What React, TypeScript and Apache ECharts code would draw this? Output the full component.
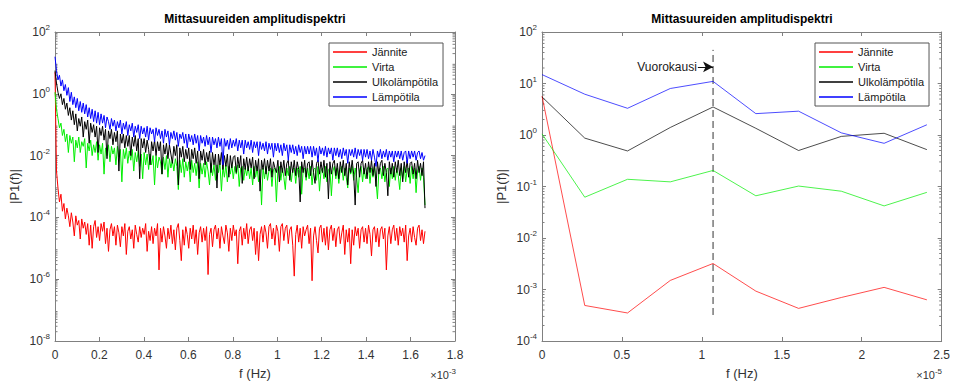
import { useEffect, useRef } from 'react';
import * as echarts from 'echarts';

const FONT = '"Liberation Sans", Arial, Helvetica, sans-serif';
const TITLE = 'Mittasuureiden amplitudispektri';
const X_NAME = 'f (Hz)';
const Y_NAME = '|P1(f)|';

const seriesNames = ['Jännite', 'Virta', 'Ulkolämpötila', 'Lämpötila'];
const seriesColors = ['#ff0000', '#00ee00', '#000000', '#0000ff'];

// ---------- Left panel: full amplitude spectrum (values as log10 |P1(f)|) ----------
const leftFreqStepHz = 6.6867e-6; // spectrum bin spacing
const janniteLog10 = [
  0.7, -2.5, -3.05, -3.5, -3.25, -3.8, -3.55, -4.05, -3.7, -3.95,
  -4.3, -3.85, -4.15, -4.6, -3.95, -4.25, -4.1, -4.7, -4.05, -4.35,
  -4.15, -4.55, -4.2, -4.9, -4.25, -5.0, -4.3, -4.1, -4.65, -4.3,
  -4.75, -4.2, -4.45, -4.15, -4.85, -4.35, -5.1, -4.4, -4.2, -4.6,
  -4.3, -4.9, -4.25, -4.5, -4.95, -4.3, -4.6, -4.2, -5.2, -4.45,
  -4.3, -4.7, -4.4, -5.0, -4.25, -4.55, -4.8, -4.3, -4.65, -4.35,
  -4.55, -4.2, -5.1, -4.45, -4.75, -4.3, -4.85, -4.35, -4.6, -4.2,
  -5.7, -4.35, -4.8, -4.3, -4.6, -5.0, -4.35, -4.7, -4.25, -4.85,
  -4.4, -5.05, -4.35, -4.2, -4.75, -5.4, -4.4, -4.9, -4.3, -4.55,
  -5.0, -4.35, -4.7, -4.25, -4.85, -4.4, -5.2, -4.5, -4.3, -4.8,
  -4.35, -4.75, -4.3, -5.85, -4.55, -4.35, -4.95, -4.4, -4.25, -4.7,
  -4.35, -5.0, -4.3, -4.6, -4.85, -4.25, -4.5, -5.1, -4.35, -4.75,
  -4.25, -4.6, -4.4, -5.5, -4.45, -4.3, -4.9, -4.35, -4.7, -4.2,
  -4.85, -4.4, -4.3, -4.75, -4.35, -5.2, -4.45, -5.4, -4.55, -4.3,
  -4.8, -4.25, -4.5, -5.0, -4.3, -4.2, -4.7, -4.35, -4.9, -4.25,
  -4.45, -5.1, -4.3, -4.2, -4.75, -4.35, -4.25, -4.85, -4.4, -4.3,
  -4.9, -5.9, -4.55, -4.25, -4.8, -4.35, -5.0, -4.3, -4.6, -4.4,
  -4.25, -4.85, -4.35, -6.05, -4.6, -4.3, -4.75, -5.15, -4.35, -4.25,
  -4.8, -4.35, -4.9, -4.3, -5.05, -4.4, -4.25, -4.75, -4.35, -4.95,
  -4.4, -4.3, -4.85, -4.5, -4.25, -5.2, -4.4, -4.8, -4.35, -5.5,
  -4.4, -4.9, -4.3, -4.6, -4.35, -5.0, -4.4, -4.3, -4.8, -4.35,
  -4.85, -4.25, -4.55, -5.25, -4.4, -4.3, -4.8, -4.35, -4.95, -4.4,
  -4.3, -4.7, -4.35, -5.7, -4.6, -4.3, -4.85, -4.4, -4.25, -4.75,
  -4.35, -4.9, -4.3, -4.6, -4.35, -4.8, -4.25, -5.4, -4.6, -4.35,
  -4.8, -4.3, -4.65, -4.9, -4.35, -4.25, -4.75, -4.4, -4.85, -4.45,
];
const virtaLog10 = [
  0.05, -0.5, -0.8, -1.1, -0.95, -1.35, -1.15, -1.55, -1.3, -1.9,
  -1.35, -1.6, -1.4, -2.2, -1.5, -1.75, -1.4, -1.9, -1.55, -1.7,
  -1.45, -2.4, -1.6, -1.85, -1.5, -2.0, -1.65, -1.9, -1.55, -2.15,
  -1.65, -1.95, -1.6, -2.6, -1.75, -2.0, -1.65, -2.2, -1.7, -1.95,
  -1.75, -2.3, -1.7, -2.05, -1.8, -2.85, -1.8, -2.1, -1.75, -2.25,
  -1.85, -2.15, -1.8, -2.5, -1.9, -2.2, -1.85, -2.35, -1.95, -2.75,
  -1.9, -2.3, -1.95, -2.45, -1.95, -2.3, -2.0, -2.95, -2.0, -2.4,
  -2.05, -2.2, -2.6, -2.05, -2.45, -2.0, -2.7, -2.1, -2.4, -2.15,
  -2.5, -2.1, -2.35, -3.1, -2.15, -2.55, -2.1, -2.7, -2.2, -2.5,
  -2.2, -2.85, -2.15, -2.55, -2.25, -2.65, -2.2, -3.05, -2.25, -2.6,
  -2.25, -2.7, -2.2, -2.5, -2.95, -2.25, -2.65, -2.3, -2.8, -2.3,
  -2.55, -2.25, -3.15, -2.35, -2.7, -2.3, -2.85, -2.35, -2.6, -2.3,
  -2.75, -2.35, -2.6, -2.3, -3.0, -2.4, -2.35, -2.8, -2.4, -2.65,
  -2.35, -2.75, -2.4, -2.95, -2.35, -2.7, -2.4, -2.85, -2.45, -3.6,
  -2.4, -2.75, -2.35, -2.8, -2.5, -2.4, -3.0, -2.45, -2.4, -3.5,
  -2.45, -2.35, -2.8, -2.4, -2.7, -3.1, -2.4, -2.65, -2.35, -2.85,
  -2.45, -2.4, -2.9, -2.4, -2.7, -2.35, -3.25, -2.45, -2.4, -2.8,
  -2.4, -2.75, -2.35, -2.95, -2.45, -2.4, -2.8, -2.35, -3.15, -2.5,
  -2.4, -2.75, -2.35, -2.85, -2.45, -2.4, -3.3, -2.5, -2.35, -2.75,
  -2.4, -2.9, -2.45, -2.35, -2.8, -2.4, -2.7, -3.05, -2.4, -2.6,
  -2.35, -2.8, -2.4, -2.7, -3.2, -2.45, -2.35, -2.85, -2.4, -2.75,
  -2.45, -2.35, -2.9, -2.4, -2.7, -2.35, -2.8, -3.4, -2.45, -2.4,
  -2.75, -2.35, -2.85, -2.45, -2.4, -3.0, -2.4, -2.75, -2.35, -2.8,
  -2.4, -2.65, -3.1, -2.4, -2.75, -2.35, -2.85, -2.45, -2.4, -2.9,
  -2.35, -2.75, -2.4, -3.2, -2.5, -2.35, -2.8, -2.4, -2.7, -3.6,
];
const ulkolampotilaLog10 = [
  0.75, 0.35, 0.05, -0.15, 0.0, -0.35, -0.15, -0.5, -0.3, -0.7,
  -0.45, -0.85, -0.55, -1.0, -0.65, -1.2, -0.8, -1.05, -0.75, -1.4,
  -0.9, -1.15, -0.85, -1.6, -0.95, -1.25, -1.0, -1.4, -1.05, -1.9,
  -1.1, -1.35, -1.05, -1.5, -1.15, -2.1, -1.2, -1.45, -1.15, -1.65,
  -1.25, -1.55, -1.2, -2.5, -1.3, -1.6, -1.3, -1.75, -1.35, -1.7,
  -1.35, -2.0, -1.4, -1.7, -1.35, -1.85, -1.45, -2.75, -1.45, -1.75,
  -1.45, -1.9, -1.5, -1.8, -2.3, -1.55, -1.85, -1.5, -2.0, -1.55,
  -1.85, -1.55, -2.6, -1.65, -1.95, -1.6, -2.1, -1.65, -1.95, -2.25,
  -1.7, -2.0, -1.65, -2.95, -1.75, -2.05, -1.7, -2.2, -1.8, -2.1,
  -1.75, -2.45, -1.8, -2.1, -1.75, -2.25, -1.85, -2.75, -1.85, -2.15,
  -1.8, -2.3, -1.9, -2.2, -1.85, -2.55, -1.9, -2.3, -1.95, -3.05,
  -1.95, -2.3, -1.9, -2.45, -2.0, -2.35, -1.95, -2.7, -2.0, -2.4,
  -2.05, -2.0, -2.55, -2.05, -2.4, -2.0, -2.9, -2.1, -2.45, -2.05,
  -2.5, -2.1, -2.4, -2.05, -2.75, -2.15, -2.5, -2.1, -3.15, -2.15,
  -2.45, -2.1, -2.6, -2.15, -2.5, -2.1, -2.7, -2.2, -2.4, -2.55,
  -2.15, -2.85, -2.2, -2.55, -2.15, -2.65, -2.25, -2.15, -2.8, -2.2,
  -2.55, -2.15, -2.65, -2.2, -2.45, -3.5, -2.2, -2.55, -2.15, -2.7,
  -2.25, -2.2, -2.65, -2.15, -2.55, -2.9, -2.25, -2.15, -2.6, -2.2,
  -2.55, -2.15, -2.7, -2.25, -3.4, -2.2, -2.6, -2.25, -2.15, -2.65,
  -2.25, -2.75, -2.2, -2.55, -2.15, -2.65, -2.25, -2.95, -2.2, -2.55,
  -2.15, -2.6, -3.6, -2.25, -2.2, -2.7, -2.25, -2.15, -2.6, -2.25,
  -2.75, -2.2, -2.55, -2.15, -2.65, -2.25, -3.0, -2.2, -2.6, -2.25,
  -2.15, -2.65, -2.25, -2.55, -3.3, -2.2, -2.6, -2.25, -2.7, -2.2,
  -2.55, -2.15, -2.65, -2.25, -2.85, -2.2, -2.55, -2.15, -2.7, -2.25,
  -2.2, -2.6, -2.25, -2.75, -2.15, -2.55, -2.25, -2.65, -2.2, -3.7,
];
const lampotilaLog10 = [
  1.2, 0.75, 0.45, 0.6, 0.25, 0.45, 0.1, 0.3, -0.05, 0.2,
  -0.25, 0.05, -0.35, -0.1, -0.45, -0.15, -0.55, -0.25, -0.6, -0.3,
  -0.65, -0.35, -0.75, -0.45, -0.8, -0.5, -0.9, -0.55, -0.95, -0.6,
  -1.0, -0.65, -0.95, -0.7, -1.1, -0.75, -0.9, -1.15, -0.8, -1.05,
  -0.85, -1.2, -0.9, -1.1, -0.85, -1.3, -0.95, -1.15, -0.9, -1.35,
  -1.0, -1.2, -0.95, -1.4, -1.05, -1.25, -1.0, -1.45, -1.05, -1.3,
  -1.1, -1.4, -1.05, -1.5, -1.1, -1.3, -1.15, -1.55, -1.1, -1.35,
  -1.15, -1.45, -1.2, -1.6, -1.15, -1.4, -1.2, -1.65, -1.25, -1.45,
  -1.2, -1.5, -1.25, -1.7, -1.3, -1.45, -1.25, -1.6, -1.3, -1.75,
  -1.3, -1.55, -1.35, -1.65, -1.3, -1.6, -1.35, -1.85, -1.35, -1.6,
  -1.4, -1.7, -1.35, -1.65, -1.4, -1.9, -1.4, -1.65, -1.45, -1.75,
  -1.4, -1.7, -1.45, -2.3, -1.45, -1.7, -1.5, -1.8, -1.45, -1.75,
  -1.5, -1.7, -1.45, -1.85, -1.5, -1.75, -1.5, -1.95, -1.5, -1.75,
  -1.55, -1.8, -1.5, -1.9, -1.55, -1.75, -1.55, -2.0, -1.55, -1.8,
  -1.6, -1.85, -1.55, -1.95, -1.6, -1.8, -1.6, -2.05, -1.6, -1.85,
  -1.6, -1.9, -1.65, -2.0, -1.6, -1.85, -1.65, -2.15, -1.65, -1.9,
  -1.65, -1.95, -1.7, -2.0, -1.65, -1.9, -1.7, -2.1, -1.7, -1.95,
  -1.7, -1.95, -1.7, -2.05, -1.7, -2.0, -1.75, -2.2, -1.7, -1.95,
  -1.75, -2.0, -1.7, -2.05, -1.75, -1.95, -1.75, -2.15, -1.75, -2.0,
  -1.75, -2.05, -1.8, -2.1, -1.75, -2.0, -1.8, -2.25, -1.8, -2.0,
  -1.8, -2.05, -1.75, -2.1, -1.8, -2.0, -1.8, -2.15, -1.8, -2.05,
  -1.8, -2.1, -1.85, -2.15, -1.8, -2.05, -2.35, -1.85, -2.05, -1.8,
  -2.1, -1.85, -2.05, -1.8, -2.15, -1.85, -2.05, -1.85, -2.2, -1.85,
  -2.05, -1.85, -2.1, -1.85, -2.15, -1.9, -1.85, -2.25, -1.85, -2.1,
  -1.85, -2.05, -1.85, -2.15, -1.9, -1.85, -2.1, -1.9, -2.15, -2.0,
];
const leftSeriesLog10 = [janniteLog10, virtaLog10, ulkolampotilaLog10, lampotilaLog10];

// ---------- Right panel: low-frequency detail ----------
const rightFreqHz = [0, 2.675e-6, 5.35e-6, 8.025e-6, 1.07e-5, 1.3375e-5, 1.605e-5, 1.8725e-5, 2.14e-5, 2.4075e-5];
const janniteZoom = [5.7, 4.9e-4, 3.5e-4, 1.5e-3, 3.2e-3, 9.3e-4, 4.3e-4, 7e-4, 1.1e-3, 6.3e-4];
const virtaZoom = [1.05, 0.062, 0.138, 0.123, 0.205, 0.066, 0.102, 0.081, 0.042, 0.077];
const ulkolampotilaZoom = [5.5, 0.87, 0.49, 1.4, 3.5, 1.35, 0.5, 0.94, 1.08, 0.52];
const lampotilaZoom = [14.9, 6.2, 3.3, 8.0, 11.0, 2.6, 2.9, 1.1, 0.69, 1.58];
const rightSeries = [janniteZoom, virtaZoom, ulkolampotilaZoom, lampotilaZoom];

const dayMarkerHz = 1.07e-5;
const dayMarkerRange = [3.2e-4, 45];
const dayLabel = 'Vuorokausi';
const dayArrowStartHz = 9.75e-6;
const dayArrowLevel = 21;

// axis ranges (x in Hz, y as decade exponents)
const leftX = { max: 1.8e-3, interval: 2e-4, scale: 1e3, exp: -3 };
const rightX = { max: 2.5e-5, interval: 5e-6, scale: 1e5, exp: -5 };
const leftY = { min: -8, max: 2, interval: 2 };
const rightY = { min: -4, max: 2, interval: 1 };

const AXIS_COLOR = '#808080';
const LABEL_COLOR = '#333333';

const supRich = {
  b: { fontSize: 12, lineHeight: 17, fontFamily: FONT, color: LABEL_COLOR },
  s: { fontSize: 8, lineHeight: 9, verticalAlign: 'top', fontFamily: FONT, color: LABEL_COLOR },
};

function fmtTick(v: number, scale: number) {
  return String(Number((v * scale).toFixed(2)));
}

function makeXAxes(g: number, cfg: { max: number; interval: number; scale: number }) {
  const base: any = {
    gridIndex: g,
    type: 'value',
    min: 0,
    max: cfg.max,
    interval: cfg.interval,
    splitLine: { show: false },
    axisLine: { show: true, onZero: false, lineStyle: { color: AXIS_COLOR, width: 1 } },
    axisTick: { show: true, inside: true, length: 4, lineStyle: { color: AXIS_COLOR } },
  };
  return [
    {
      ...base,
      position: 'bottom',
      axisLabel: {
        color: LABEL_COLOR,
        fontSize: 12,
        fontFamily: FONT,
        margin: 8,
        formatter: (v: number) => fmtTick(v, cfg.scale),
      },
      name: X_NAME,
      nameLocation: 'middle',
      nameGap: 26,
      nameTextStyle: { color: LABEL_COLOR, fontSize: 13, fontFamily: FONT },
    },
    { ...base, position: 'top', axisLabel: { show: false } },
  ];
}

function makeYAxes(g: number, cfg: { min: number; max: number; interval: number }) {
  const base: any = {
    gridIndex: g,
    type: 'value',
    min: cfg.min,
    max: cfg.max,
    interval: cfg.interval,
    splitLine: { show: false },
    axisLine: { show: true, onZero: false, lineStyle: { color: AXIS_COLOR, width: 1 } },
    axisTick: { show: true, inside: true, length: 4, lineStyle: { color: AXIS_COLOR } },
  };
  return [
    {
      ...base,
      position: 'left',
      axisLabel: {
        margin: 5,
        formatter: (v: number) => `{b|10}{s|${v}}`,
        rich: supRich,
      },
      name: Y_NAME,
      nameLocation: 'middle',
      nameRotate: 90,
      nameGap: 34,
      nameTextStyle: { color: LABEL_COLOR, fontSize: 13, fontFamily: FONT },
    },
    { ...base, position: 'right', axisLabel: { show: false } },
  ];
}

// log-distributed minor tick positions (2..9 within every decade)
function minorExponents(lo: number, hi: number) {
  const out: number[] = [];
  for (let n = lo; n < hi; n++) for (let k = 2; k <= 9; k++) out.push(n + Math.log10(k));
  return out;
}

function minorTickSeries(axisIdx: number, xMax: number, lo: number, hi: number) {
  return {
    type: 'custom',
    name: 'minor',
    xAxisIndex: axisIdx,
    yAxisIndex: axisIdx,
    silent: true,
    clip: false,
    z: 1,
    data: minorExponents(lo, hi).map((e) => [0, e]),
    renderItem: (_p: any, api: any) => {
      const e = api.value(1);
      const a = api.coord([0, e]);
      const b = api.coord([xMax, e]);
      const st = { stroke: AXIS_COLOR, lineWidth: 1 };
      return {
        type: 'group',
        children: [
          { type: 'line', shape: { x1: a[0], y1: a[1], x2: a[0] + 2.5, y2: a[1] }, style: st },
          { type: 'line', shape: { x1: b[0] - 2.5, y1: b[1], x2: b[0], y2: b[1] }, style: st },
        ],
      };
    },
  };
}

function legendAt(left: number) {
  return {
    data: seriesNames,
    orient: 'vertical',
    left,
    top: 43,
    icon: 'rect',
    itemWidth: 34,
    itemHeight: 1.5,
    itemGap: 0,
    padding: [1.5, 5, 1.5, 4],
    borderColor: '#555555',
    borderWidth: 1,
    borderRadius: 0,
    backgroundColor: '#ffffff',
    selectedMode: false,
    textStyle: { fontSize: 11, lineHeight: 15, color: '#1a1a1a', fontFamily: FONT, padding: [0, 0, 0, 0] },
  };
}

function multiplierText(xRight: number, exp: number) {
  return {
    type: 'text',
    x: xRight,
    y: 367,
    silent: true,
    style: {
      text: `{b|×10}{s|${exp}}`,
      align: 'right',
      verticalAlign: 'top',
      fill: LABEL_COLOR,
      rich: {
        b: { fontSize: 11, lineHeight: 16, fontFamily: FONT, fill: LABEL_COLOR },
        s: { fontSize: 8, lineHeight: 9, verticalAlign: 'top', fontFamily: FONT, fill: LABEL_COLOR },
      },
    },
  };
}

export default function App() {
  const ref = useRef<HTMLDivElement>(null);

  useEffect(() => {
    if (!ref.current) return;
    const chart = echarts.init(ref.current, undefined, { renderer: 'svg' });

    const leftLines = seriesNames.map((name, k) => ({
      type: 'line',
      name,
      xAxisIndex: 0,
      yAxisIndex: 0,
      symbol: 'none',
      showSymbol: false,
      z: 3,
      emphasis: { disabled: true },
      itemStyle: { color: seriesColors[k] },
      lineStyle: { color: seriesColors[k], width: 1 },
      data: leftSeriesLog10[k].map((v, i) => [i * leftFreqStepHz, v]),
    }));

    const rightLines = seriesNames.map((name, k) => ({
      type: 'line',
      name,
      xAxisIndex: 2,
      yAxisIndex: 2,
      symbol: 'none',
      showSymbol: false,
      z: 3,
      emphasis: { disabled: true },
      itemStyle: { color: seriesColors[k] },
      lineStyle: { color: seriesColors[k], width: 1, opacity: 0.7 },
      data: rightSeries[k].map((v, i) => [rightFreqHz[i], Math.log10(v)]),
    }));

    const dayMarker = {
      type: 'line',
      name: dayLabel,
      xAxisIndex: 2,
      yAxisIndex: 2,
      symbol: 'none',
      showSymbol: false,
      z: 2,
      silent: true,
      lineStyle: { color: '#333333', width: 1, type: [7, 4] },
      data: dayMarkerRange.map((v) => [dayMarkerHz, Math.log10(v)]),
      markLine: {
        silent: true,
        symbol: ['none', 'arrow'],
        symbolSize: [8, 10],
        lineStyle: { color: '#111111', type: 'solid', width: 1 },
        label: {
          show: true,
          position: 'start',
          distance: 1,
          formatter: dayLabel,
          color: '#1a1a1a',
          fontSize: 12,
          fontFamily: FONT,
        },
        data: [
          [
            { coord: [dayArrowStartHz, Math.log10(dayArrowLevel)] },
            { coord: [dayMarkerHz, Math.log10(dayArrowLevel)] },
          ],
        ],
      },
    };

    const option: any = {
      animation: false,
      backgroundColor: '#ffffff',
      textStyle: { fontFamily: FONT },
      title: [
        {
          text: TITLE,
          left: 255,
          top: 13,
          textAlign: 'center',
          padding: 0,
          textStyle: { fontSize: 12, fontWeight: 'bold', color: '#000', fontFamily: FONT },
        },
        {
          text: TITLE,
          left: 742,
          top: 13,
          textAlign: 'center',
          padding: 0,
          textStyle: { fontSize: 12, fontWeight: 'bold', color: '#000', fontFamily: FONT },
        },
      ],
      grid: [
        { left: 55, top: 32, width: 400, height: 312, containLabel: false },
        { left: 542, top: 32, width: 400, height: 312, containLabel: false },
      ],
      legend: [legendAt(329), legendAt(815)],
      xAxis: [...makeXAxes(0, leftX), ...makeXAxes(1, rightX)],
      yAxis: [...makeYAxes(0, leftY), ...makeYAxes(1, rightY)],
      series: [
        minorTickSeries(0, leftX.max, leftY.min, leftY.max),
        minorTickSeries(2, rightX.max, rightY.min, rightY.max),
        ...leftLines,
        ...rightLines,
        dayMarker,
      ],
      graphic: [multiplierText(456, leftX.exp), multiplierText(942, rightX.exp)],
    };

    chart.setOption(option);
    return () => chart.dispose();
  }, []);

  return (
    <div
      ref={ref}
      style={{ position: 'absolute', left: 0, top: 0, width: 953, height: 385, background: '#fff' }}
    />
  );
}
